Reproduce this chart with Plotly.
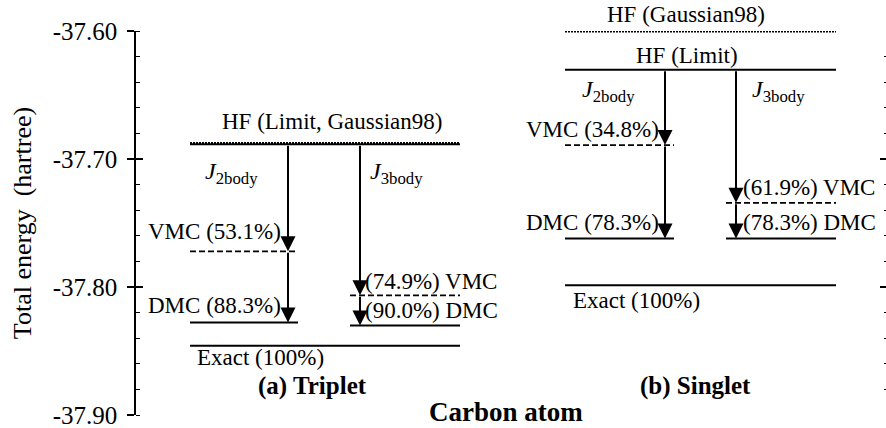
import plotly.graph_objects as go

# ---------------- data (hartree) ----------------
states = ["Triplet", "Singlet"]
panel_titles = ["(a) Triplet", "(b) Singlet"]
hf_gaussian98 = [-37.6877, -37.6002]
hf_limit = [-37.6885, -37.6303]
vmc_j2 = [-37.7721, -37.6891]
dmc_j2 = [-37.8277, -37.7621]
vmc_j3 = [-37.8065, -37.7342]
dmc_j3 = [-37.8300, -37.7621]
exact = [-37.8459, -37.7987]
pct_vmc_j2 = ["53.1%", "34.8%"]
pct_dmc_j2 = ["88.3%", "78.3%"]
pct_vmc_j3 = ["74.9%", "61.9%"]
pct_dmc_j3 = ["90.0%", "78.3%"]
hf_labels = ["HF (Limit, Gaussian98)", "HF (Limit)"]
y_tickvals = [-37.60, -37.70, -37.80, -37.90]
y_ticktext = ["-37.60", "-37.70", "-37.80", "-37.90"]
y_range = [-37.90, -37.60]

# ---------------- layout constants ----------------
W, H = 886, 428
ML, MR, MT, MB = 136, 0, 31, 13
X0, X1 = 136, 886          # horizontal coordinate system (page pixels)
FONT = "Liberation Serif, Times New Roman, Times, serif"
LW = 2
LAB = 23
panels = [
    dict(full=(190, 460), left=(190, 298), right=(350, 460), a2=288, a3=360,
         hf_x=332, hf_shift=23, j2_x=203, j3_x=368, j_shift=-29, lab2_x=283, lab3_x=363,
         ex_x=195, ex_shift=-12, title_x=312,
         shifts=(20, 17, 14, 15)),
    dict(full=(565, 836), left=(565, 674), right=(726, 836), a2=665, a3=736,
         hf_x=687, hf_shift=14, j2_x=580, j3_x=750, j_shift=-21, lab2_x=661, lab3_x=741,
         ex_x=571, ex_shift=-15, title_x=695,
         shifts=(16, 15.5, 15, 15.5)),
]

fig = go.Figure()
annotations = []


def level(x0, x1, y, dash="solid", width=LW):
    fig.add_trace(go.Scatter(x=[x0, x1], y=[y, y], mode="lines",
                             line=dict(color="black", width=width, dash=dash),
                             hoverinfo="skip", showlegend=False))


def text(t, x, y, xanchor="center", yshift=0, size=LAB):
    annotations.append(dict(text=t, x=x, y=y, xref="x", yref="y", xanchor=xanchor,
                            yanchor="middle", yshift=yshift, showarrow=False,
                            font=dict(family=FONT, size=size, color="black")))


def arrow(x, y_from, y_to):
    annotations.append(dict(x=x, y=y_to, ax=x, ay=y_from, xref="x", yref="y",
                            axref="x", ayref="y", text="", showarrow=True,
                            arrowhead=2, arrowsize=1.5, arrowwidth=LW,
                            arrowcolor="black", standoff=0, startstandoff=0))


for i, p in enumerate(panels):
    fx0, fx1 = p["full"]
    lx0, lx1 = p["left"]
    rx0, rx1 = p["right"]
    level(fx0, fx1, hf_limit[i])
    level(fx0, fx1, hf_gaussian98[i], dash="2px,1px", width=2.5)
    level(lx0, lx1, vmc_j2[i], dash="6px,3px", width=1.8)
    level(lx0, lx1, dmc_j2[i])
    level(rx0, rx1, vmc_j3[i], dash="6px,3px", width=1.8)
    level(rx0, rx1, dmc_j3[i])
    level(fx0, fx1, exact[i])
    arrow(p["a2"], hf_limit[i], vmc_j2[i])
    arrow(p["a2"], vmc_j2[i], dmc_j2[i])
    arrow(p["a3"], hf_limit[i], vmc_j3[i])
    arrow(p["a3"], vmc_j3[i], dmc_j3[i])
    s = p["shifts"]
    text(hf_labels[i], p["hf_x"], hf_limit[i], yshift=p["hf_shift"])
    if i == 1:
        text("HF (Gaussian98)", 686, hf_gaussian98[i], yshift=17)
    text("<i>J</i><sub>2body</sub>", p["j2_x"], hf_limit[i], xanchor="left",
         yshift=p["j_shift"], size=24)
    text("<i>J</i><sub>3body</sub>", p["j3_x"], hf_limit[i], xanchor="left",
         yshift=p["j_shift"], size=24)
    text(f"VMC ({pct_vmc_j2[i]})", p["lab2_x"], vmc_j2[i], xanchor="right", yshift=s[0])
    text(f"DMC ({pct_dmc_j2[i]})", p["lab2_x"], dmc_j2[i], xanchor="right", yshift=s[1])
    text(f"({pct_vmc_j3[i]}) VMC", p["lab3_x"], vmc_j3[i], xanchor="left", yshift=s[2])
    text(f"({pct_dmc_j3[i]}) DMC", p["lab3_x"], dmc_j3[i], xanchor="left", yshift=s[3])
    text("Exact (100%)", p["ex_x"], exact[i], xanchor="left", yshift=p["ex_shift"])
    text(f"<b>{panel_titles[i]}</b>", p["title_x"], y_range[0], yshift=29, size=25)

text("<b>Carbon atom</b>", 506, y_range[0], yshift=3, size=27)

fig.update_layout(
    width=W, height=H,
    margin=dict(l=ML, r=MR, t=MT, b=MB),
    paper_bgcolor="white", plot_bgcolor="white",
    font=dict(family=FONT, color="black"),
    annotations=annotations,
    xaxis=dict(range=[X0, X1], visible=False, fixedrange=True),
    yaxis=dict(range=y_range, showgrid=False, zeroline=False, fixedrange=True,
               showline=True, linecolor="black", linewidth=1.5,
               tickvals=y_tickvals, ticktext=y_ticktext,
               ticks="outside", ticklen=7, tickwidth=1.5, tickcolor="black",
               minor=dict(dtick=0.02, ticks="inside", ticklen=4, tickwidth=1,
                          tickcolor="black", showgrid=False),
               tickfont=dict(family=FONT, size=25, color="black"),
               ticklabelstandoff=5, ticklabeloverflow="allow",
               title=dict(text="Total energy\u00a0\u00a0(hartree)", standoff=14,
                          font=dict(family=FONT, size=26, color="black"))),
    yaxis2=dict(range=y_range, overlaying="y", side="left", fixedrange=True,
                showgrid=False, zeroline=False, showline=False,
                tickvals=y_tickvals, showticklabels=False,
                ticks="inside", ticklen=7, tickwidth=1.5, tickcolor="black"),
    yaxis3=dict(range=y_range, overlaying="y", side="right", fixedrange=True,
                showgrid=False, zeroline=False, showline=False,
                tickvals=y_tickvals, showticklabels=False,
                ticks="inside", ticklen=6, tickwidth=1.5, tickcolor="black",
                minor=dict(dtick=0.02, ticks="inside", ticklen=2, tickwidth=1,
                           tickcolor="black", showgrid=False)),
    showlegend=False,
)
fig.add_trace(go.Scatter(x=[None], y=[None], yaxis="y2", showlegend=False, hoverinfo="skip"))
fig.add_trace(go.Scatter(x=[None], y=[None], yaxis="y3", showlegend=False, hoverinfo="skip"))

fig.write_html("out.html", config={"displayModeBar": False},
               post_script="document.body.style.margin='0';document.body.style.overflow='hidden';")
